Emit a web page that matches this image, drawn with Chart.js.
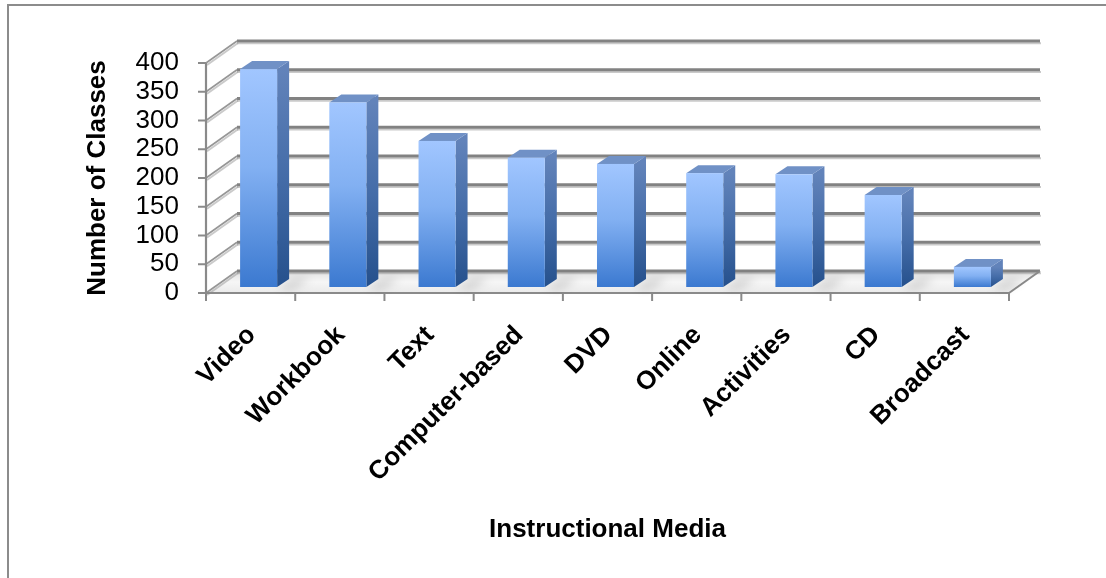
<!DOCTYPE html>
<html>
<head>
<meta charset="utf-8">
<script src="https://cdn.jsdelivr.net/npm/chart.js@4.4.1/dist/chart.umd.min.js"></script>
<style>
  html, body { margin: 0; padding: 0; background: #ffffff; }
  #wrap { width: 1106px; height: 578px; position: relative; }
</style>
</head>
<body>
<div id="wrap"><canvas id="chart" width="1106" height="578"></canvas></div>
<script>
// Instructional media used, by number of classes
const categories = ['Video', 'Workbook', 'Text', 'Computer-based', 'DVD', 'Online', 'Activities', 'CD', 'Broadcast'];
const classCounts = [379, 321, 254, 225, 214, 198, 196, 160, 35];
const yTickValues = [0, 50, 100, 150, 200, 250, 300, 350, 400];
const xAxisTitle = 'Instructional Media';
const yAxisTitle = 'Number of Classes';

const FONT = '"Liberation Sans", Arial, Helvetica, sans-serif';
Chart.defaults.font.family = FONT;

// Perspective offsets for the pseudo-3D look
const WALL = { dx: 31, dy: -22 };    // depth of the back wall
const BAR_PLANE = { dx: 8, dy: -6 }; // where the bar fronts sit
const BAR_DEPTH = { dx: 12, dy: -8 };// thickness of each bar

function line(ctx, x1, y1, x2, y2) {
  ctx.beginPath(); ctx.moveTo(x1, y1); ctx.lineTo(x2, y2); ctx.stroke();
}

const excel3d = {
  id: 'excel3d',
  beforeDraw(chart) {
    const ctx = chart.ctx;
    ctx.save();
    ctx.fillStyle = '#ffffff';
    ctx.fillRect(0, 0, chart.width, chart.height);
    // frame around the chart
    ctx.strokeStyle = '#8c8c8c';
    ctx.lineWidth = 2;
    ctx.beginPath();
    ctx.moveTo(8, chart.height + 2);
    ctx.lineTo(8, 5);
    ctx.lineTo(chart.width + 2, 5);
    ctx.stroke();
    ctx.restore();
  },
  beforeDatasetsDraw(chart) {
    const ctx = chart.ctx;
    const { left, right } = chart.chartArea;
    const ys = chart.scales.y;
    const xs = chart.scales.x;
    const base = ys.getPixelForValue(0);
    ctx.save();
    ctx.lineCap = 'butt';

    // floor
    const g = ctx.createLinearGradient(0, base + WALL.dy, 0, base);
    g.addColorStop(0, '#e0e0e0');
    g.addColorStop(0.5, '#f6f6f6');
    g.addColorStop(1, '#eaeaea');
    ctx.fillStyle = g;
    ctx.beginPath();
    ctx.moveTo(left, base);
    ctx.lineTo(right, base);
    ctx.lineTo(right + WALL.dx, base + WALL.dy);
    ctx.lineTo(left + WALL.dx, base + WALL.dy);
    ctx.closePath();
    ctx.fill();

    // back wall gridlines and side wall diagonals
    yTickValues.forEach(v => {
      const y = ys.getPixelForValue(v);
      const by = y + WALL.dy;
      ctx.strokeStyle = 'rgba(150,150,150,0.5)';
      ctx.lineWidth = 2;
      line(ctx, left + WALL.dx, by + 2.3, right + WALL.dx + 1, by + 2.3);
      line(ctx, left + 1, y + 2, left + WALL.dx + 1, by + 2);
      ctx.strokeStyle = '#828282';
      ctx.lineWidth = 2.8;
      line(ctx, left + WALL.dx, by, right + WALL.dx, by);
      ctx.lineWidth = 1.6;
      ctx.strokeStyle = '#969696';
      line(ctx, left, y, left + WALL.dx, by);
      // tick mark on the front axis
      ctx.strokeStyle = '#8a8a8a';
      ctx.lineWidth = 2;
      line(ctx, left - 8, y, left, y);
    });

    // floor right edge
    ctx.strokeStyle = '#8a8a8a';
    ctx.lineWidth = 2;
    line(ctx, right, base, right + WALL.dx, base + WALL.dy);

    // front axes
    ctx.strokeStyle = '#8a8a8a';
    ctx.lineWidth = 2.2;
    line(ctx, left, ys.getPixelForValue(400), left, base + 1);
    line(ctx, left - 1, base, right, base);
    for (let i = 0; i <= categories.length; i++) {
      const x = xs.getPixelForValue(i - 0.5);
      ctx.lineWidth = 2;
      line(ctx, x, base, x, base + 8);
    }
    ctx.restore();
  },
  afterDatasetsDraw(chart) {
    const ctx = chart.ctx;
    const meta = chart.getDatasetMeta(0);
    ctx.save();
    meta.data.forEach(bar => {
      const p = bar.getProps(['x', 'y', 'base', 'width'], true);
      const x0 = p.x - p.width / 2 + BAR_PLANE.dx;
      const x1 = p.x + p.width / 2 + BAR_PLANE.dx;
      const yt = p.y + BAR_PLANE.dy;
      const yb = p.base + BAR_PLANE.dy;

      // soft shadow on the floor
      ctx.save();
      ctx.filter = 'blur(4px)';
      ctx.fillStyle = 'rgba(0,0,0,0.16)';
      ctx.beginPath();
      ctx.moveTo(x1, yb);
      ctx.lineTo(x1 + BAR_DEPTH.dx + 6, yb + BAR_DEPTH.dy);
      ctx.lineTo(x1 + BAR_DEPTH.dx + 22, yb + BAR_DEPTH.dy);
      ctx.lineTo(x1 + 14, yb + 2);
      ctx.closePath();
      ctx.fill();
      ctx.restore();

      // side face
      const gs = ctx.createLinearGradient(0, yt, 0, yb);
      gs.addColorStop(0, '#6283ba');
      gs.addColorStop(0.5, '#446ca8');
      gs.addColorStop(1, '#25508c');
      ctx.fillStyle = gs;
      ctx.beginPath();
      ctx.moveTo(x1, yt);
      ctx.lineTo(x1 + BAR_DEPTH.dx, yt + BAR_DEPTH.dy);
      ctx.lineTo(x1 + BAR_DEPTH.dx, yb + BAR_DEPTH.dy);
      ctx.lineTo(x1, yb);
      ctx.closePath();
      ctx.fill();

      // top face
      ctx.fillStyle = '#7091c6';
      ctx.beginPath();
      ctx.moveTo(x0, yt);
      ctx.lineTo(x0 + BAR_DEPTH.dx, yt + BAR_DEPTH.dy);
      ctx.lineTo(x1 + BAR_DEPTH.dx, yt + BAR_DEPTH.dy);
      ctx.lineTo(x1, yt);
      ctx.closePath();
      ctx.fill();

      // front face
      const gf = ctx.createLinearGradient(0, yt, 0, yb);
      gf.addColorStop(0, '#a1c6ff');
      gf.addColorStop(0.45, '#82b0f2');
      gf.addColorStop(1, '#3b79d0');
      ctx.fillStyle = gf;
      ctx.fillRect(x0, yt, x1 - x0, yb - yt);
    });

    // rotated category labels
    const xs = chart.scales.x;
    ctx.fillStyle = '#000000';
    ctx.font = 'bold 26px ' + FONT;
    ctx.textAlign = 'right';
    ctx.textBaseline = 'middle';
    categories.forEach((label, i) => {
      const px = xs.getPixelForValue(i);
      ctx.save();
      ctx.translate(px + 1, 331);
      ctx.rotate(-Math.PI / 4);
      ctx.fillText(label, 0, 0);
      ctx.restore();
    });
    ctx.restore();
  }
};

new Chart(document.getElementById('chart'), {
  type: 'bar',
  data: {
    labels: categories,
    datasets: [{
      data: classCounts,
      backgroundColor: 'rgba(0,0,0,0)',
      borderWidth: 0,
      categoryPercentage: 1,
      barPercentage: 0.415
    }]
  },
  options: {
    responsive: false,
    animation: false,
    devicePixelRatio: 1,
    layout: { padding: { top: 63, right: 97, left: 0, bottom: 0 } },
    plugins: { legend: { display: false }, tooltip: { enabled: false } },
    scales: {
      x: {
        grid: { display: false, drawTicks: false },
        border: { display: false },
        ticks: { display: false },
        title: {
          display: true, text: xAxisTitle, color: '#000000',
          font: { size: 26, weight: 'bold', family: FONT },
          padding: { top: 0, bottom: 33 }
        },
        afterFit(scale) { scale.height = 285; }
      },
      y: {
        min: 0, max: 400,
        grid: { display: false, drawTicks: false },
        border: { display: false },
        ticks: {
          stepSize: 50, padding: 27, color: '#000000', autoSkip: false,
          font: { size: 26, family: FONT }
        },
        title: {
          display: true, text: yAxisTitle, color: '#000000',
          font: { size: 26, weight: 'bold', family: FONT },
          padding: { top: 82, bottom: 0 }
        },
        afterFit(scale) { scale.width = 206; }
      }
    }
  },
  plugins: [excel3d]
});
</script>
</body>
</html>
